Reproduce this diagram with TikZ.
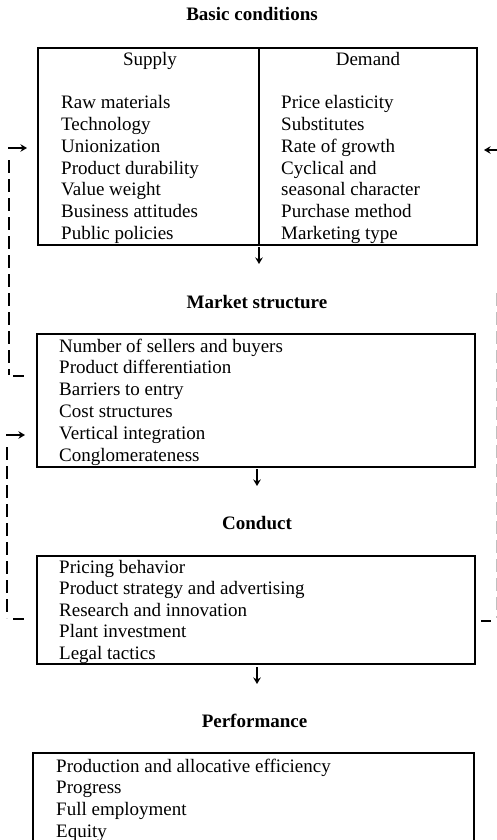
\documentclass[tikz,border=0pt]{standalone}
\usepackage{fontspec}
\setmainfont{Liberation Serif}
\usetikzlibrary{arrows.meta}
\begin{document}
\begin{tikzpicture}[x=1pt, y=-1pt,
        every node/.style={inner sep=0pt, font=\fontsize{19}{22}\selectfont},
        box/.style 2 args={draw, line width=1.5pt, minimum width=#1, minimum height=#2},
        head/.style={anchor=base, font=\fontsize{19}{22}\selectfont\bfseries},
        item/.style={anchor=base west},
        flow/.style={line width=1.2pt, -{Stealth[length=6.5pt, width=7.5pt, inset=2pt]}},
        fb/.style={line width=1.4pt, dash pattern=on 13pt off 6pt},
        tick/.style={line width=1.4pt}]
    \useasboundingbox (0,0) rectangle (497,840);
    \clip (0,0) rectangle (497,840);

    % basic conditions
    \node[head] (basic) at (252,21) {Basic conditions};
    \node[box={221pt}{197pt}] (supply) at (148.5,146.5) {};
    \node[box={218pt}{197pt}] (demand) at (368,146.5) {};
    \node[anchor=base] (supplyhd) at (150,66) {Supply};
    \node[anchor=base] (demandhd) at (368,66) {Demand};
    \foreach \t [count=\i] in {Raw materials, Technology, Unionization,
            Product durability, Value weight, Business attitudes, Public policies}
        \node[item] (s\i) at (61,{87.3+21.7*\i}) {\t};
    \foreach \t [count=\i] in {Price elasticity, Substitutes, Rate of growth,
            Cyclical and, seasonal character, Purchase method, Marketing type}
        \node[item] (d\i) at (281,{87.3+21.7*\i}) {\t};

    % market structure
    \node[head] (structure) at (257,308) {Market structure};
    \node[box={438pt}{133pt}] (structbox) at (256,400.5) {};
    \foreach \t [count=\i] in {Number of sellers and buyers, Product differentiation,
            Barriers to entry, Cost structures, Vertical integration, Conglomerateness}
        \node[item] (m\i) at (59,{330.2+21.8*\i}) {\t};

    % conduct
    \node[head] (conduct) at (257,529) {Conduct};
    \node[box={438pt}{108pt}] (conductbox) at (256,610) {};
    \foreach \t [count=\i] in {Pricing behavior, Product strategy and advertising,
            Research and innovation, Plant investment, Legal tactics}
        \node[item] (c\i) at (59,{551.5+21.5*\i}) {\t};

    % performance
    \node[head] (perform) at (254.5,727) {Performance};
    \node[box={441pt}{97pt}] (perfbox) at (253.5,801.5) {};
    \foreach \t [count=\i] in {Production and allocative efficiency, Progress,
            Full employment, Equity}
        \node[item] (p\i) at (56,{750.3+21.7*\i}) {\t};

    % downward arrows
    \coordinate (a1s) at (259,247);
    \coordinate (a1e) at (259,264);
    \coordinate (a2s) at (257,469);
    \coordinate (a2e) at (257,486);
    \coordinate (a3s) at (257,667);
    \coordinate (a3e) at (257,684);
    \draw[flow] (a1s) -- (a1e);
    \draw[flow] (a2s) -- (a2e);
    \draw[flow] (a3s) -- (a3e);

    % feedback, left
    \coordinate (fa1s) at (8,148);
    \coordinate (fa1e) at (27,148);
    \coordinate (fl1t) at (9,160);
    \coordinate (fl1b) at (9,375);
    \coordinate (ft1s) at (13,376);
    \coordinate (ft1e) at (24,376);
    \draw[flow] (fa1s) -- (fa1e);
    \draw[fb] (fl1t) -- (fl1b);
    \draw[tick] (ft1s) -- (ft1e);
    \coordinate (fa2s) at (6,435);
    \coordinate (fa2e) at (25,435);
    \coordinate (fl2t) at (7,447);
    \coordinate (fl2b) at (7,618);
    \coordinate (ft2s) at (13,619);
    \coordinate (ft2e) at (24,619);
    \draw[flow] (fa2s) -- (fa2e);
    \draw[fb] (fl2t) -- (fl2b);
    \draw[tick] (ft2s) -- (ft2e);

    % feedback, right
    \coordinate (fa3s) at (500,150);
    \coordinate (fa3e) at (484,150);
    \coordinate (fl3t) at (496.5,293);
    \coordinate (fl3b) at (496.5,618);
    \coordinate (ft3s) at (481,621);
    \coordinate (ft3e) at (491,621);
    \draw[flow] (fa3s) -- (fa3e);
    \draw[fb, black!25] (fl3t) -- (fl3b);
    \draw[tick] (ft3s) -- (ft3e);
\end{tikzpicture}
\end{document}
